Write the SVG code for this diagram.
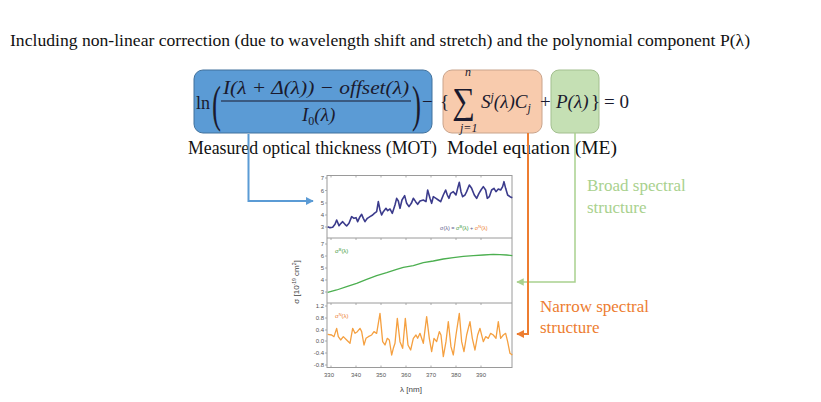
<svg xmlns="http://www.w3.org/2000/svg" width="821" height="402" viewBox="0 0 821 402">
<style>
.serif{font-family:"Liberation Serif","Times New Roman",serif;fill:#111}
.math{font-family:"Liberation Serif","DejaVu Serif",serif;font-style:italic;fill:#1a1a2e}
.mup{font-family:"Liberation Serif","DejaVu Serif",serif;fill:#1a1a2e}
.tick{font-family:"Liberation Sans",Arial,sans-serif;font-size:6px;fill:#555;text-anchor:end}
.xt{font-family:"Liberation Sans",Arial,sans-serif;font-size:6px;fill:#555;text-anchor:middle}
.frame{fill:none;stroke:#9a9a9a;stroke-width:1}
.curve{fill:none;vector-effect:non-scaling-stroke;stroke-linejoin:round}
</style>
<defs>
<marker id="ab" viewBox="0 0 10 10" refX="9" refY="5" markerWidth="4" markerHeight="4" orient="auto"><path d="M0,0L10,5L0,10z" fill="#5b9bd5"/></marker>
<marker id="ao" viewBox="0 0 10 10" refX="9" refY="5" markerWidth="4" markerHeight="4" orient="auto"><path d="M0,0L10,5L0,10z" fill="#ed7d31"/></marker>
<marker id="ag" viewBox="0 0 10 10" refX="9" refY="5" markerWidth="5" markerHeight="5" orient="auto"><path d="M0,0L10,5L0,10z" fill="#a9d18e"/></marker>
</defs>
<rect width="821" height="402" fill="#fff"/>

<text class="serif" x="10" y="46" font-size="17" textLength="740" lengthAdjust="spacingAndGlyphs">Including non-linear correction (due to wavelength shift and stretch) and the polynomial  component P(λ)</text>

<g id="mot">
<rect x="194" y="70" width="238" height="63" rx="9" fill="#5b9bd5" stroke="#41719c" stroke-width="1"/>
<text class="mup" x="196" y="109" font-size="18">ln</text>
<text class="mup" transform="translate(212,121) scale(0.5,0.95)" font-size="54">(</text>
<text class="math" x="223" y="94" font-size="19" textLength="186" lengthAdjust="spacingAndGlyphs">I(λ + Δ(λ)) − offset(λ)</text>
<line x1="221" y1="101" x2="411" y2="101" stroke="#1a1a2e" stroke-width="1.2"/>
<text class="math" x="302" y="121" font-size="19">I<tspan font-size="12" dy="4" font-style="normal">0</tspan><tspan dy="-4">(λ)</tspan></text>
<text class="mup" transform="translate(412,121) scale(0.5,0.95)" font-size="54">)</text>
</g>

<g id="me">
<rect x="443" y="70" width="99" height="63" rx="9" fill="#f8cbad" stroke="#c9a48c" stroke-width="1"/>
<text class="mup" x="422" y="108" font-size="19">−</text>
<text class="mup" x="440" y="108" font-size="19">{</text>
<text class="mup" transform="translate(452,113) scale(1,1.15)" font-size="32">∑</text>
<text class="math" x="465" y="76" font-size="12">n</text>
<text class="math" x="460" y="132" font-size="12">j=1</text>
<text class="math" x="481" y="108" font-size="19">S<tspan font-size="12" dy="-7">j</tspan><tspan dy="7">(λ)C</tspan><tspan font-size="12" dy="4">j</tspan></text>
<text class="mup" x="540" y="108" font-size="19">+</text>
</g>

<g id="poly">
<rect x="551" y="70" width="48" height="63" rx="8" fill="#c5e0b4" stroke="#a3bf8f" stroke-width="1"/>
<text class="math" x="556" y="108" font-size="19">P(λ)</text>
<text class="mup" x="591" y="108" font-size="19">}</text>
<text class="mup" x="604" y="108" font-size="19">= 0</text>
</g>

<text class="serif" x="188" y="154" font-size="18" textLength="249" lengthAdjust="spacingAndGlyphs">Measured optical thickness (MOT)</text>
<text class="serif" x="447" y="154" font-size="18" textLength="170" lengthAdjust="spacingAndGlyphs">Model equation (ME)</text>

<g id="chart">
<rect class="frame" x="327" y="175.5" width="185" height="192"/>
<line class="frame" x1="327" y1="238" x2="512" y2="238"/>
<line class="frame" x1="327" y1="303" x2="512" y2="303"/>
<g stroke="#9a9a9a" stroke-width="0.8">
<path d="M331,367.5v-2M356,367.5v-2M381,367.5v-2M406,367.5v-2M431,367.5v-2M456,367.5v-2M481,367.5v-2"/>
<path d="M331,303v2M356,303v2M381,303v2M406,303v2M431,303v2M456,303v2M481,303v2"/>
<path d="M331,238v2M356,238v2M381,238v2M406,238v2M431,238v2M456,238v2M481,238v2"/>
<path d="M331,175.5v2M356,175.5v2M381,175.5v2M406,175.5v2M431,175.5v2M456,175.5v2M481,175.5v2"/>
<path d="M325,178h2M325,190.5h2M325,203h2M325,215h2M325,227h2M325,244h2M325,256h2M325,268h2M325,280h2M325,292h2M325,306h2M325,318h2M325,330h2M325,341h2M325,353h2M325,365h2"/>
</g>
<text class="tick" x="324" y="180">7</text>
<text class="tick" x="324" y="193">6</text>
<text class="tick" x="324" y="205">5</text>
<text class="tick" x="324" y="217">4</text>
<text class="tick" x="324" y="229">3</text>
<text class="tick" x="324" y="246">7</text>
<text class="tick" x="324" y="258">6</text>
<text class="tick" x="324" y="270">5</text>
<text class="tick" x="324" y="282">4</text>
<text class="tick" x="324" y="294">3</text>
<text class="tick" x="324" y="308">1.2</text>
<text class="tick" x="324" y="320">0.8</text>
<text class="tick" x="324" y="332">0.4</text>
<text class="tick" x="324" y="343">0.0</text>
<text class="tick" x="324" y="355">-0.4</text>
<text class="tick" x="324" y="367">-0.8</text>
<text class="xt" x="329" y="377">330</text>
<text class="xt" x="356" y="377">340</text>
<text class="xt" x="381" y="377">350</text>
<text class="xt" x="406" y="377">360</text>
<text class="xt" x="431" y="377">370</text>
<text class="xt" x="456" y="377">380</text>
<text class="xt" x="481" y="377">390</text>
<text x="411" y="392" font-family="Liberation Sans,Arial,sans-serif" font-size="8" fill="#444" text-anchor="middle">λ [nm]</text>
<text transform="translate(299,282) rotate(-90)" font-family="Liberation Sans,Arial,sans-serif" font-size="8" fill="#444" text-anchor="middle">σ [10<tspan font-size="5" dy="-3">-19</tspan><tspan dy="3"> cm</tspan><tspan font-size="5" dy="-3">2</tspan><tspan dy="3">]</tspan></text>
<text x="440" y="230" font-family="Liberation Sans,Arial,sans-serif" font-size="5.5" fill="#5a5a8a">σ(λ) = <tspan fill="#3d9a3d">σ<tspan font-size="4" dy="-2">B</tspan><tspan dy="2">(λ)</tspan></tspan> + <tspan fill="#ed7d31">σ<tspan font-size="4" dy="-2">N</tspan><tspan dy="2">(λ)</tspan></tspan></text>
<text x="335" y="253" font-family="Liberation Sans,Arial,sans-serif" font-size="6" fill="#3d9a3d">σ<tspan font-size="4" dy="-2">B</tspan><tspan dy="2">(λ)</tspan></text>
<text x="335" y="318" font-family="Liberation Sans,Arial,sans-serif" font-size="6" fill="#ed7d31">σ<tspan font-size="4" dy="-2">N</tspan><tspan dy="2">(λ)</tspan></text>
<g transform="translate(280,165) scale(0.3333)">
<path class="curve" stroke="#3b3b8c" stroke-width="1.6" d="M143,185L150,188L158,187L165,178L170,165L177,182L183,175L188,170L195,178L200,183L207,175L215,155L222,160L228,158L233,170L240,155L245,148L250,160L255,170L262,160L270,155L278,150L283,145L290,140L295,110L300,135L305,150L310,140L318,130L323,137L330,132L337,145L345,120L350,100L355,108L360,130L366,105L374,92L380,115L387,125L394,115L400,100L407,110L413,118L420,108L430,105L438,110L443,75L450,100L455,115L460,95L468,100L475,105L482,110L490,90L497,75L502,90L507,100L512,85L520,80L528,90L533,70L538,52L543,80L548,95L555,90L560,80L568,60L575,70L583,90L590,100L597,85L603,75L610,65L617,75L622,100L628,95L635,75L642,70L648,80L655,72L662,75L668,65L672,50L677,70L683,90L690,95L697,98"/>
</g>
<g transform="translate(280,235) scale(0.3333)">
<path class="curve" stroke="#4caf50" stroke-width="1.3" d="M143,172L170,165L200,155L230,145L260,133L290,122L320,113L350,103L370,97L400,92L430,83L460,78L490,72L520,68L550,64L580,62L610,60L640,58L660,59L680,60L697,62"/>
</g>
<g transform="translate(280,295) scale(0.3333)">
<path class="curve" stroke="#f5a040" stroke-width="1.3" d="M143,118L155,120L162,125L170,100L175,125L182,135L190,125L200,135L210,145L218,100L225,115L232,110L240,100L245,110L252,150L258,130L265,125L275,120L282,110L290,115L300,55L308,140L315,150L322,130L328,135L335,180L340,160L345,145L352,70L360,140L368,160L376,70L384,150L392,165L400,130L408,120L413,130L420,115L430,145L440,65L448,130L455,170L462,130L470,140L478,110L483,120L490,185L498,140L505,80L513,155L520,180L528,120L538,55L545,140L552,170L560,120L570,80L577,130L585,165L593,120L600,100L610,140L617,125L625,130L632,115L640,120L648,130L655,80L662,130L670,120L677,115L683,140L690,175L697,180"/>
</g>
</g>

<g id="connectors" fill="none">
<path d="M248.5,134V201H313" stroke="#5b9bd5" stroke-width="2" marker-end="url(#ab)"/>
<path d="M575,133V282H517" stroke="#a9d18e" stroke-width="1.5" marker-end="url(#ag)"/>
<path d="M528,133V334H517" stroke="#ed7d31" stroke-width="2" marker-end="url(#ao)"/>
</g>

<text class="serif" x="587" y="191" font-size="17" style="fill:#a9d18e">Broad spectral</text>
<text class="serif" x="587" y="213" font-size="17" style="fill:#a9d18e">structure</text>
<text class="serif" x="540" y="312" font-size="17" style="fill:#ed7d31">Narrow spectral</text>
<text class="serif" x="540" y="333" font-size="17" style="fill:#ed7d31">structure</text>
</svg>
